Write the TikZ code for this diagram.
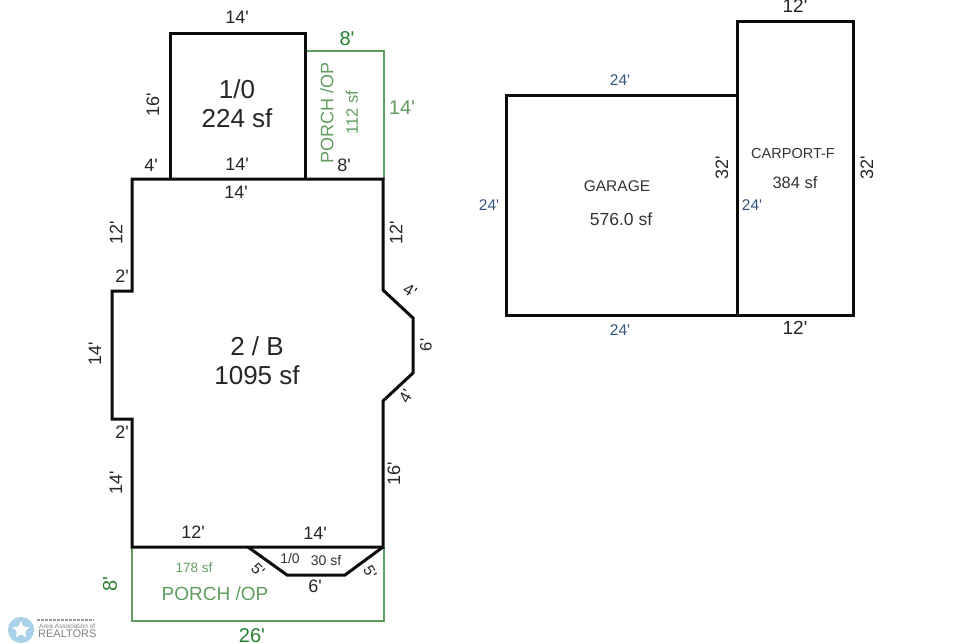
\documentclass[tikz,border=0pt]{standalone}
\usepackage{fontspec}
\setmainfont[Ligatures=TeXOff]{Liberation Sans}
\usetikzlibrary{shapes.geometric}
\definecolor{wallblack}{RGB}{12,12,12}
\definecolor{porchgreen}{RGB}{96,158,96}
\definecolor{dimgreen}{RGB}{40,130,50}
\definecolor{dimblue}{RGB}{50,85,125}
\definecolor{logoblue}{RGB}{140,195,225}
\definecolor{logogray}{RGB}{125,130,135}
\tikzset{
	wall/.style={draw=wallblack,line width=3pt,line join=miter},
	porch/.style={draw=porchgreen,line width=1.1pt},
	dim/.style={inner sep=0pt,text=black!85,font=\fontsize{18}{20}\selectfont},
	dimg/.style={inner sep=0pt,text=dimgreen,font=\fontsize{20}{22}\selectfont},
	dimb/.style={inner sep=0pt,text=dimblue,font=\fontsize{15.5}{17}\selectfont},
	room/.style={inner sep=0pt,align=center,text=black!85,font=\fontsize{26}{29}\selectfont},
	small/.style={inner sep=0pt,text=black!80,font=\fontsize{15.5}{17}\selectfont},
	porchtext/.style={inner sep=0pt,text=porchgreen}
}
\begin{document}
\begin{tikzpicture}[x=1pt,y=-1pt]
	\useasboundingbox (0,0) rectangle (959,643);
	\draw[porch] (307,51) -- (384,51) -- (384,179);
	\draw[porch] (132,547) -- (132,621) -- (384,621) -- (384,547);
	\draw[wall] (170,179) -- (170,33) -- (305,33) -- (305,179);
	\draw[wall] (132,179) -- (383,179) -- (383,290) -- (413,318) -- (413,373) -- (383,401) -- (383,547) -- (132,547) -- (132,419) -- (112,419) -- (112,291) -- (132,291) -- cycle;
	\draw[wall] (248,547) -- (287,575) -- (345,575) -- (383,547);
	\draw[wall] (737,95) -- (506,95) -- (506,315) -- (737,315);
	\draw[wall] (737,21) -- (853,21) -- (853,315) -- (737,315) -- cycle;

	\node[dim] (upTop) at (237,17) {14'};
	\node[dim,rotate=90] (upLeft) at (153,105) {16'};
	\node[dim] (upBase) at (237,164) {14'};
	\node[dim] (stepTop) at (151,165) {4'};
	\node[dim] (mainTop) at (236,192) {14'};
	\node[dim] (porchBase) at (344,165) {8'};
	\node[room] (upRoom) at (237,104) {1/0\\224 sf};
	\node[room] (mainRoom) at (257,361) {2 / B\\1095 sf};

	\node[dim,rotate=90] (leftA) at (116,233) {12'};
	\node[dim] (leftB) at (122,276) {2'};
	\node[dim,rotate=90] (leftC) at (95,354) {14'};
	\node[dim] (leftD) at (122,432) {2'};
	\node[dim,rotate=90] (leftE) at (116,483) {14'};
	\node[dim,rotate=90] (rightA) at (396,233) {12'};
	\node[dim,font=\fontsize{16.5}{18}\selectfont,rotate=-30] (rightB) at (410,291) {4'};
	\node[dim,font=\fontsize{16.5}{18}\selectfont,rotate=90] (rightC) at (426,345) {6'};
	\node[dim,font=\fontsize{16.5}{18}\selectfont,rotate=60] (rightD) at (406,396) {4'};
	\node[dim,rotate=90] (rightE) at (394,474) {16'};

	\node[dim] (baseA) at (193,532) {12'};
	\node[dim] (baseB) at (315,533) {14'};
	\node[dim] (bayBase) at (315,586) {6'};
	\node[dim,font=\fontsize{15.5}{17}\selectfont,rotate=-45] (bayLeft) at (258,570) {5'};
	\node[dim,font=\fontsize{15.5}{17}\selectfont,rotate=-60] (bayRight) at (370,572) {5'};
	\node[small,font=\fontsize{14}{16}\selectfont] (bayRoom) at (290,558) {1/0};
	\node[small,font=\fontsize{14}{16}\selectfont] (bayArea) at (326,560) {30 sf};

	\node[dimg] (porchTop) at (347,39) {8'};
	\node[dimg,text=porchgreen] (porchSide) at (402,108) {14'};
	\node[porchtext,rotate=90,font=\fontsize{18}{20}\selectfont] (porchName) at (327,113) {PORCH /OP};
	\node[porchtext,rotate=90,font=\fontsize{16.5}{18}\selectfont] (porchArea) at (352,113) {112 sf};
	\node[porchtext,font=\fontsize{13.5}{15}\selectfont] (frontArea) at (194,568) {178 sf};
	\node[porchtext,font=\fontsize{19}{21}\selectfont] (frontName) at (215,594) {PORCH /OP};
	\node[dimg,rotate=90] (frontSide) at (110,584) {8'};
	\node[dimg] (frontBase) at (252,636) {26'};

	\node[dimb] (garTop) at (620,80) {24'};
	\node[dimb] (garLeft) at (489,205) {24'};
	\node[dimb] (garRight) at (752,205) {24'};
	\node[dimb] (garBase) at (620,330) {24'};
	\node[small] (garName) at (617,186) {GARAGE};
	\node[small,font=\fontsize{17.5}{19}\selectfont] (garArea) at (621,219) {576.0 sf};
	\node[small,font=\fontsize{14.5}{16}\selectfont] (carName) at (793,154) {CARPORT-F};
	\node[small,font=\fontsize{16.5}{18}\selectfont] (carArea) at (795,183) {384 sf};
	\node[dim,font=\fontsize{19}{21}\selectfont] (carTop) at (795,6) {12'};
	\node[dim,font=\fontsize{19}{21}\selectfont] (carBase) at (795,328) {12'};
	\node[dim,rotate=90] (carInner) at (722,168) {32'};
	\node[dim,rotate=90] (carRight) at (867,168) {32'};

	\draw[logoblue,line width=8pt,opacity=.75] (21,630) circle (9);
	\node[star,star points=5,star point ratio=2.1,fill=white,draw=none,inner sep=3pt] (logoStar) at (21,630) {};
	\draw[logogray!80,line width=2.2pt,dash pattern=on 3pt off 1pt] (37,620) -- (94,620);
	\node[inner sep=0pt,anchor=west,text=logogray,font=\fontsize{6.5}{7}\selectfont] (logoArea) at (39,626) {Area Association of};
	\node[inner sep=0pt,anchor=west,text=logogray,font=\fontsize{11}{12}\selectfont] (logoName) at (38,634) {REALTORS};
\end{tikzpicture}
\end{document}
